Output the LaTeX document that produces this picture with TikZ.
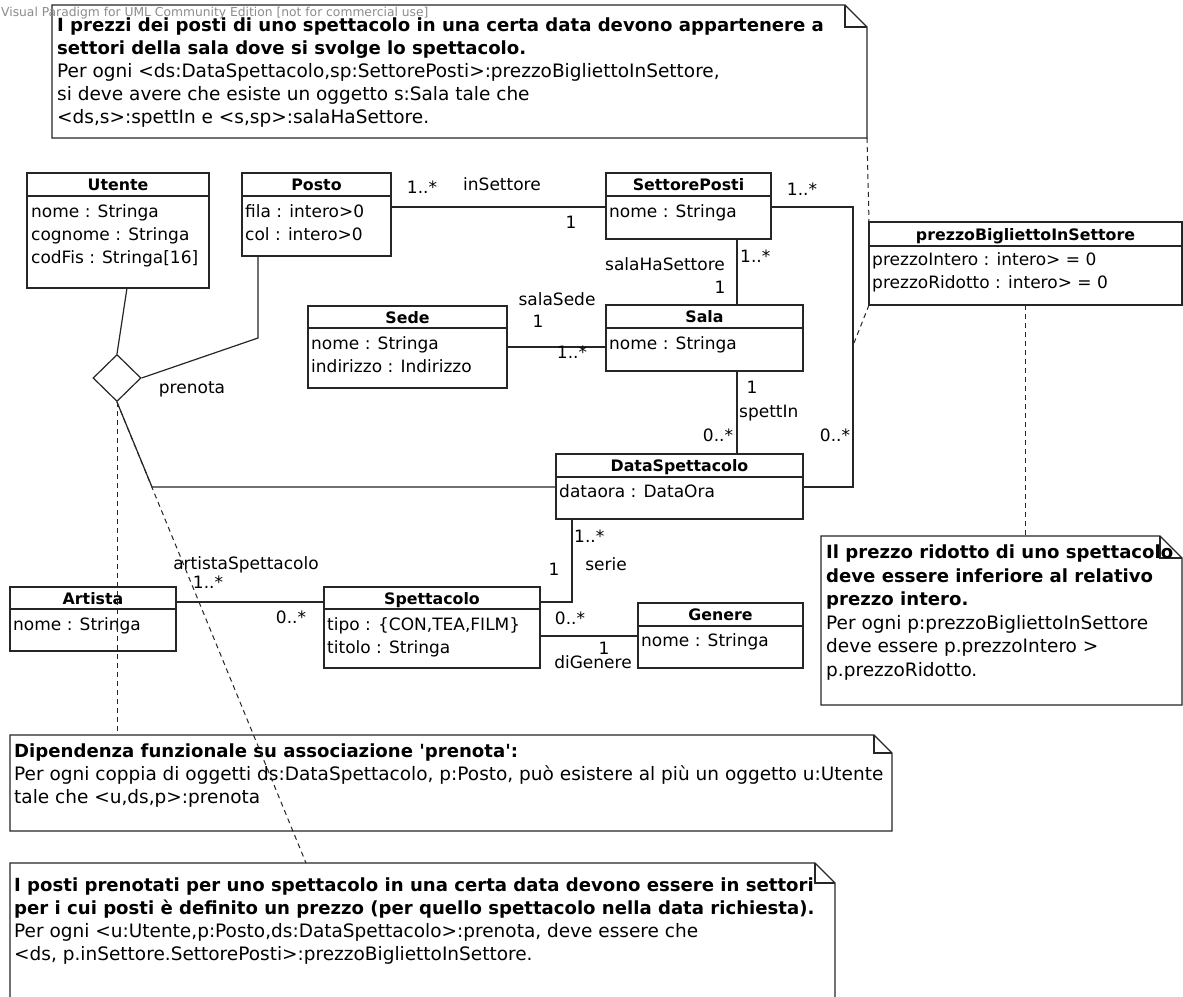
\documentclass[tikz,border=0pt]{standalone}
\usepackage{fontspec}
\setmainfont{DejaVu Sans}
\usetikzlibrary{shapes.geometric}
\newcommand{\fs}{\fontsize{17}{20}\selectfont}
\newcommand{\tfs}{\fontsize{15.8}{19}\selectfont}
\newcommand{\nfs}{\fontsize{18.5}{22}\selectfont}
\newcommand{\bnfs}{\fontsize{18.1}{22}\selectfont}
\tikzset{
  ln/.style={draw=black!85, line width=1.2pt},
  box/.style={draw=none, inner sep=0pt, outer sep=0pt, anchor=north west},
  ttl/.style={font=\tfs\bfseries, inner sep=0pt, anchor=base},
  txt/.style={font=\fs, inner sep=0pt, anchor=base west},
  ntxt/.style={font=\nfs, inner sep=0pt, anchor=base west},
  btxt/.style={font=\bnfs\bfseries, inner sep=0pt, anchor=base west},
  lbl/.style={font=\fs, inner sep=0pt, anchor=base},
  lblw/.style={font=\fs, inner sep=0pt, anchor=base west},
  dsh/.style={draw=black!85, line width=1pt, dash pattern=on 5pt off 4pt},
}
\newcommand{\umlclass}[7]{%
  \node[box, minimum width={#4-#2}, minimum height={#5-#3}] (#1) at (#2,#3) {};
  \draw[ln, fill=white] (#1.north west) rectangle (#1.south east);
  \draw[ln] (#2,#6) -- (#4,#6);
  \node[ttl] (#1-t) at ({(#2+#4)/2},{(#3+#6)/2+6}) {#7};
}
\newcommand{\umlnote}[6]{%
  \node[box, minimum width={#4-#2}, minimum height={#5-#3}] (#1) at (#2,#3) {};
  \draw[ln, fill=white] (#2,#3) -- ({#4-#6},#3) -- (#4,{#3+#6}) -- (#4,#5) -- (#2,#5) -- cycle;
  \draw[ln] ({#4-#6},#3) -- ({#4-#6},{#3+#6}) -- (#4,{#3+#6});
}
\begin{document}
\begin{tikzpicture}[x=1pt,y=-1pt]
\clip (0,0) rectangle (1183,996);
\fill[white] (0,0) rectangle (1183,996);

% notes
\umlnote{tnote}{52}{5}{867}{138}{22}
\node[btxt] (tn1) at (57,31.5) {I prezzi dei posti di uno spettacolo in una certa data devono appartenere a};
\node[btxt] (tn2) at (57,54.5) {settori della sala dove si svolge lo spettacolo.};
\node[ntxt] (tn3) at (57,77.5) {Per ogni <ds:DataSpettacolo,sp:SettorePosti>:prezzoBigliettoInSettore,};
\node[ntxt] (tn4) at (57,100.5) {si deve avere che esiste un oggetto s:Sala tale che};
\node[ntxt] (tn5) at (57,123.5) {<ds,s>:spettIn e <s,sp>:salaHaSettore.};

\umlnote{rnote}{821}{536}{1182}{705}{22}
\node[btxt] (rn1) at (826,558.5) {Il prezzo ridotto di uno spettacolo};
\node[btxt] (rn2) at (826,582) {deve essere inferiore al relativo};
\node[btxt] (rn3) at (826,605.5) {prezzo intero.};
\node[ntxt] (rn4) at (826,629) {Per ogni p:prezzoBigliettoInSettore};
\node[ntxt] (rn5) at (826,652.5) {deve essere p.prezzoIntero >};
\node[ntxt] (rn6) at (826,676) {p.prezzoRidotto.};

\umlnote{mnote}{10}{735}{892}{831}{18}
\node[btxt] (mn1) at (14,757.5) {Dipendenza funzionale su associazione \textquotesingle prenota\textquotesingle:};
\node[ntxt] (mn2) at (14,780.5) {Per ogni coppia di oggetti ds:DataSpettacolo, p:Posto, può esistere al più un oggetto u:Utente};
\node[ntxt] (mn3) at (14,803.5) {tale che <u,ds,p>:prenota};

\umlnote{bnote}{10}{863}{835}{1000}{20}
\node[btxt] (bn1) at (14,891.5) {I posti prenotati per uno spettacolo in una certa data devono essere in settori};
\node[btxt] (bn2) at (14,914.5) {per i cui posti è definito un prezzo (per quello spettacolo nella data richiesta).};
\node[ntxt] (bn3) at (14,937.5) {Per ogni <u:Utente,p:Posto,ds:DataSpettacolo>:prenota, deve essere che};
\node[ntxt] (bn4) at (14,960.5) {<ds, p.inSettore.SettorePosti>:prezzoBigliettoInSettore.};

% classes
\umlclass{utente}{27}{173}{209}{288}{196}{Utente}
\node[txt] (ut1) at (31,217) {nome : Stringa};
\node[txt] (ut2) at (31,240) {cognome : Stringa};
\node[txt] (ut3) at (31,263) {codFis : Stringa[16]};

\umlclass{posto}{242}{173}{391}{256}{196}{Posto}
\node[txt] (po1) at (245,217) {fila : intero>0};
\node[txt] (po2) at (245,240) {col : intero>0};

\umlclass{settore}{606}{173}{771}{239}{196}{SettorePosti}
\node[txt] (se1) at (609,217) {nome : Stringa};

\umlclass{prezzo}{869}{222}{1182}{305}{246}{prezzoBigliettoInSettore}
\node[txt] (pr1) at (872,265) {prezzoIntero : intero> = 0};
\node[txt] (pr2) at (872,288) {prezzoRidotto : intero> = 0};

\umlclass{sede}{308}{306}{507}{388}{328}{Sede}
\node[txt] (sd1) at (311,349) {nome : Stringa};
\node[txt] (sd2) at (311,372) {indirizzo : Indirizzo};

\umlclass{sala}{606}{305}{803}{371}{328}{Sala}
\node[txt] (sa1) at (609,349) {nome : Stringa};

\umlclass{data}{556}{454}{803}{519}{477}{DataSpettacolo}
\node[txt] (da1) at (559,497) {dataora : DataOra};

\umlclass{artista}{10}{587}{176}{651}{609}{Artista}
\node[txt] (ar1) at (13,630) {nome : Stringa};

\umlclass{spett}{324}{587}{540}{668}{609}{Spettacolo}
\node[txt] (sp1) at (327,630) {tipo : \{CON,TEA,FILM\}};
\node[txt] (sp2) at (327,653) {titolo : Stringa};

\umlclass{genere}{638}{603}{803}{668}{626}{Genere}
\node[txt] (ge1) at (641,646) {nome : Stringa};

% diamond
\node[draw=black!85, line width=1.2pt, fill=white, diamond, aspect=1, inner sep=0pt, minimum width=48pt, minimum height=47pt] (dia) at (117,378) {};

% helper coordinates
\coordinate (yIS) at (0,207);
\coordinate (xR) at (853,0);
\coordinate (yD) at (0,487);
\coordinate (xA) at (737,0);
\coordinate (ySS) at (0,347);
\coordinate (xS) at (572,0);
\coordinate (yAS) at (0,602);
\coordinate (yG) at (0,636);
\coordinate (xP) at (258,0);
\coordinate (yP) at (0,338);
\coordinate (cD) at (152,487);
\coordinate (cP) at (854,343);
\coordinate (xB) at (306,0);

% associations
\draw[ln] (posto.east |- yIS) -- (settore.west |- yIS);
\draw[ln] (settore.east |- yIS) -- (xR |- yIS) -- (xR |- yD) -- (data.east |- yD);
\draw[ln] (settore.south -| xA) -- (sala.north -| xA);
\draw[ln] (sede.east |- ySS) -- (sala.west |- ySS);
\draw[ln] (sala.south -| xA) -- (data.north -| xA);
\draw[ln] (data.south -| xS) -- (xS |- yAS) -- (spett.east |- yAS);
\draw[ln] (artista.east |- yAS) -- (spett.west |- yAS);
\draw[ln] (spett.east |- yG) -- (genere.west |- yG);
\draw[ln] ([xshift=9pt]utente.south) -- (dia.north);
\draw[ln] (posto.south -| xP) -- (xP |- yP) -- (dia.east);
\draw[ln] (dia.south) -- (cD) -- (data.west |- yD);

% dashed note links
\draw[dsh] (tnote.south east) -- (prezzo.north west);
\draw[dsh] (prezzo.south west) -- (cP);
\draw[dsh] (prezzo.south) -- (prezzo.south |- rnote.north);
\draw[dsh] (dia.south) -- (dia.south |- mnote.north);
\draw[dsh] (dia.south) -- (bnote.north -| xB);

% labels
\node[lbl] (l1) at (422,193.5) {1..*};
\node[lbl] (l2) at (502,190.5) {inSettore};
\node[lbl] (l3) at (571,228.5) {1};
\node[lbl] (l4) at (802,195.5) {1..*};
\node[lbl] (l5) at (835,441.5) {0..*};
\node[lblw] (l6) at (740,262.5) {1..*};
\node[lbl] (l7) at (665,270.5) {salaHaSettore};
\node[lbl] (l8) at (720,293.5) {1};
\node[lbl] (l9) at (557,305.5) {salaSede};
\node[lbl] (l10) at (538,327.5) {1};
\node[lbl] (l11) at (572,358.5) {1..*};
\node[lbl] (l12) at (752,393.5) {1};
\node[lblw] (l13) at (739,417.5) {spettIn};
\node[lbl] (l14) at (718,441.5) {0..*};
\node[lblw] (l15) at (574,542.5) {1..*};
\node[lbl] (l16) at (606,570.5) {serie};
\node[lbl] (l17) at (554,575.5) {1};
\node[lbl] (l18) at (570,624.5) {0..*};
\node[lbl] (l19) at (604,654.5) {1};
\node[lbl] (l20) at (593,668.5) {diGenere};
\node[lbl] (l21) at (246,569.5) {artistaSpettacolo};
\node[lbl] (l22) at (208,588.5) {1..*};
\node[lbl] (l23) at (291,623.5) {0..*};
\node[lbl] (l24) at (192,393.5) {prenota};

% watermark
\node[anchor=base west, font=\fontsize{12.3}{14}\selectfont, text=black!45, inner sep=0pt] (wm) at (1,16) {Visual Paradigm for UML Community Edition [not for commercial use]};
\end{tikzpicture}
\end{document}
